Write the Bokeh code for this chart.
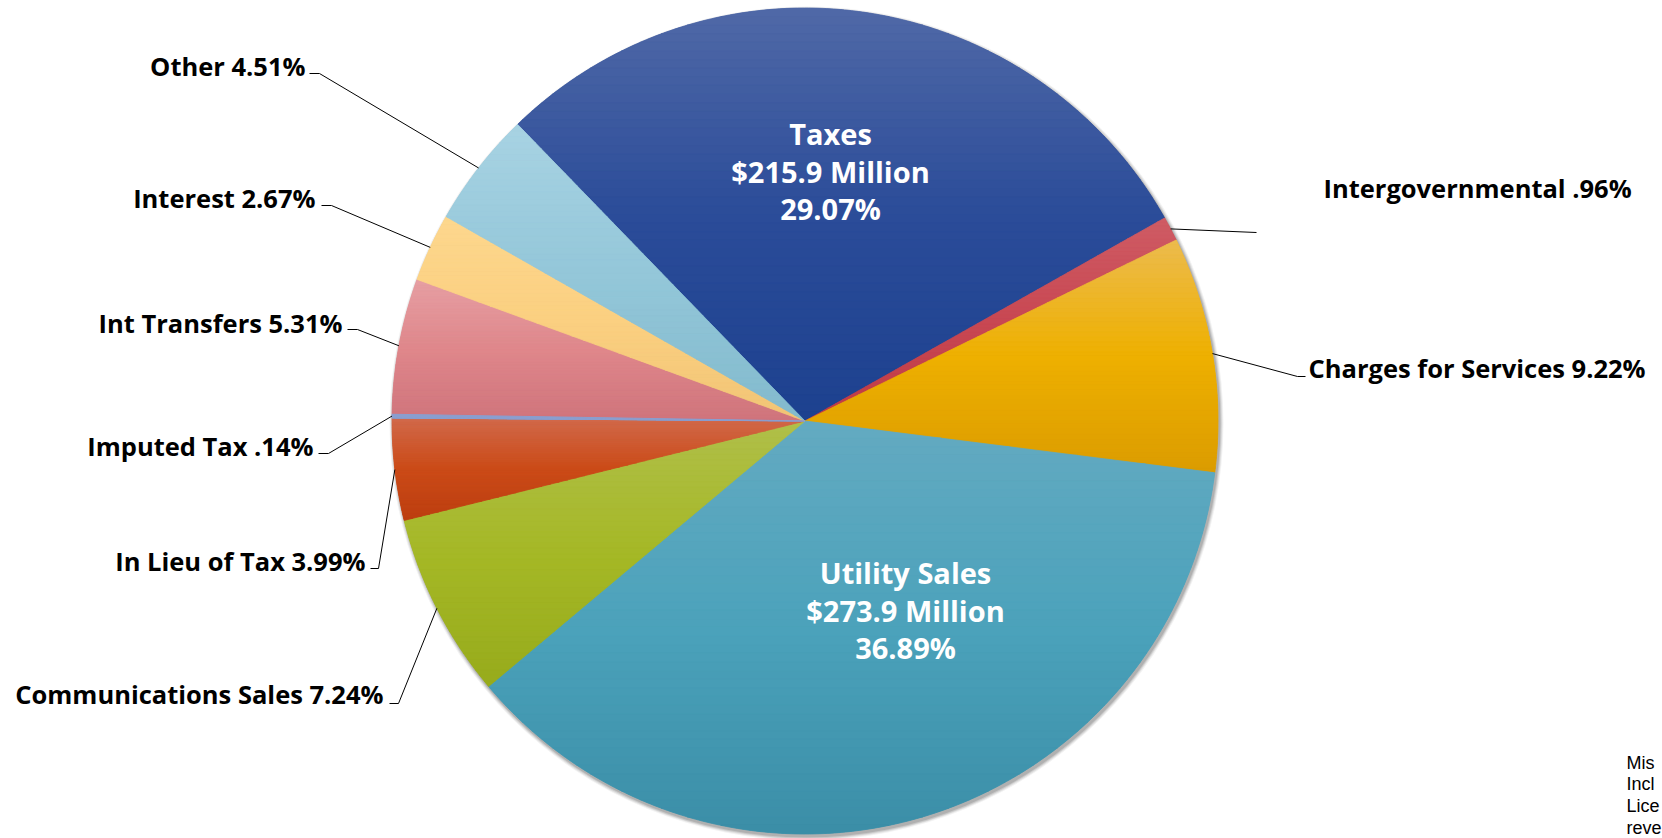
import math
from bokeh.plotting import figure
from bokeh.models import Range1d
from bokeh.embed import file_html
from bokeh.resources import INLINE
from bokeh.core.properties import value

# ---------------- data ----------------
categories = ["Taxes", "Intergovernmental", "Charges for Services", "Utility Sales",
              "Communications Sales", "In Lieu of Tax", "Imputed Tax", "Int Transfers",
              "Interest", "Other"]
percents = [29.07, 0.96, 9.22, 36.89, 7.24, 3.99, 0.14, 5.31, 2.67, 4.51]
pct_text = ["29.07%", ".96%", "9.22%", "36.89%", "7.24%", "3.99%", ".14%", "5.31%", "2.67%", "4.51%"]
amount_text = ["$215.9 Million", "", "", "$273.9 Million", "", "", "", "", "", ""]
note_lines = ["Mis", "Incl", "Lice", "reve"]

# ---------------- style ----------------
top_colors = ["#5069a7", "#cf5c64", "#ecbb4e", "#64aac1", "#b0bf4a", "#d16a4c", "#8fa2d2", "#e69fa3", "#fdd78e", "#a8d3e3"]
mid_colors = ["#2b4c99", "#c84853", "#eeb000", "#4ba2bb", "#a5b826", "#cb4b18", "#8a9ecf", "#df878b", "#fbd081", "#94c7d9"]
bot_colors = ["#1d418f", "#c03a45", "#db9c00", "#3b8ea7", "#97ab1c", "#bd3e10", "#8497c8", "#cf747c", "#f1c475", "#82bacd"]

W, H = 1662, 838
def rx(X):
    return X
def ry(Y):
    return H - Y

CX, CY, R = rx(804.5), ry(420.5), 413.0
START = 315.9  # degrees clockwise from 12 o'clock where the first slice starts

p = figure(width=W, height=H, x_range=Range1d(0, W), y_range=Range1d(0, H),
           output_backend="svg", toolbar_location=None, min_border=0)
p.axis.visible = False
p.grid.visible = False
p.outline_line_color = None
p.background_fill_color = "white"
p.border_fill_color = "white"

# slice angles (clockwise from top)
bounds = []
acc = START
for v in percents:
    a0 = acc
    a1 = acc + v / 100.0 * 360.0
    bounds.append((a0, a1))
    acc = a1

def pt(theta, rad):
    t = math.radians(theta)
    return CX + rad * math.sin(t), CY + rad * math.cos(t)

# shadow
for off, al in [(4.0, 0.05), (3.0, 0.07), (2.0, 0.10), (1.0, 0.12)]:
    p.circle(x=[CX + 1.5], y=[CY - 2.5], radius=R + off, fill_color="#000000",
             fill_alpha=al, line_color=None)

# base wedges
p.wedge(x=[CX] * len(percents), y=[CY] * len(percents), radius=R,
        start_angle=[math.radians(90 - b[1]) for b in bounds],
        end_angle=[math.radians(90 - b[0]) for b in bounds],
        fill_color=mid_colors, line_color=None)

# vertical gradient per slice
def hexrgb(h):
    h = h.lstrip("#")
    return tuple(int(h[i:i + 2], 16) for i in (0, 2, 4))

def grad(c0, c1, c2, t):
    a, b, c = hexrgb(c0), hexrgb(c1), hexrgb(c2)
    if t < 0.5:
        s = t / 0.5
        rgb = [a[i] + (b[i] - a[i]) * s for i in range(3)]
    else:
        s = (t - 0.5) / 0.5
        rgb = [b[i] + (c[i] - b[i]) * s for i in range(3)]
    return "#%02x%02x%02x" % tuple(int(round(v)) for v in rgb)

def clip(poly, yc, keep_above):
    out = []
    n = len(poly)
    for i in range(n):
        P = poly[i]
        Q = poly[(i + 1) % n]
        pin = P[1] >= yc if keep_above else P[1] <= yc
        qin = Q[1] >= yc if keep_above else Q[1] <= yc
        if pin:
            out.append(P)
        if pin != qin:
            t = (yc - P[1]) / (Q[1] - P[1])
            out.append((P[0] + t * (Q[0] - P[0]), yc))
    return out

gx, gy, gc = [], [], []
NB = 48
for i, (a0, a1) in enumerate(bounds):
    steps = max(2, int((a1 - a0) / 0.5))
    poly = [(CX, CY)] + [pt(a0 + (a1 - a0) * j / steps, R) for j in range(steps + 1)]
    ys = [q[1] for q in poly]
    ymin, ymax = min(ys), max(ys)
    if ymax - ymin < 1:
        continue
    for b in range(NB):
        yhi = ymax - (ymax - ymin) * b / NB
        ylo = ymax - (ymax - ymin) * (b + 1) / NB
        sub = clip(clip(poly, ylo, True), yhi, False)
        if len(sub) < 3:
            continue
        gx.append([q[0] for q in sub])
        gy.append([q[1] for q in sub])
        gc.append(grad(top_colors[i], mid_colors[i], bot_colors[i], (b + 0.5) / NB))

p.patches(xs=gx, ys=gy, fill_color=gc, line_color=gc, line_width=0.8)

# thin imputed slice drawn on top so it stays visible
imp = categories.index("Imputed Tax")
a0, a1 = bounds[imp]
p.wedge(x=[CX], y=[CY], radius=R, start_angle=math.radians(90 - a1),
        end_angle=math.radians(90 - a0), fill_color=mid_colors[imp], line_color=mid_colors[imp],
        line_width=1)

# ---------------- outside labels ----------------
outside = {
    "Other":                (305, 65,  "right", [(309, 73), (319, 73)]),
    "Interest":             (315, 197, "right", [(321, 205), (331, 205)]),
    "Int Transfers":        (342, 322, "right", [(347, 329), (357, 329)]),
    "Imputed Tax":          (313, 445, "right", [(318, 453), (328, 453)]),
    "In Lieu of Tax":       (365, 560, "right", [(370, 568), (378, 568)]),
    "Communications Sales": (383, 693, "right", [(389, 703), (398, 703)]),
    "Charges for Services": (1308, 367, "left", [(1305, 376), (1297, 376)]),
    "Intergovernmental":    (1323, 187, "left", [(1256, 232)]),
}

lx, ly, lt, la = [], [], [], []
mlx, mly = [], []
for name, (X, Y, align, elbow) in outside.items():
    i = categories.index(name)
    lx.append(rx(X)); ly.append(ry(Y)); lt.append(name + " " + pct_text[i]); la.append(align)
    a0, a1 = bounds[i]
    ex, ey = pt((a0 + a1) / 2.0, R)
    xs = [rx(e[0]) for e in elbow] + [ex]
    ys = [ry(e[1]) for e in elbow] + [ey]
    mlx.append(xs); mly.append(ys)

p.multi_line(xs=mlx, ys=mly, line_color="#000000", line_width=1)

FONT = "Open Sans"
for align in ("left", "right"):
    idx = [k for k in range(len(lt)) if la[k] == align]
    p.text(x=[lx[k] for k in idx], y=[ly[k] for k in idx], text=[lt[k] for k in idx],
           text_font=value(FONT), text_font_style="bold", text_font_size="25.5px",
           text_color="#000000", text_align=align, text_baseline="middle")

# ---------------- inside labels ----------------
inside = {"Taxes": (830, [133, 171, 208]), "Utility Sales": (905, [572, 610, 647])}
ix, iy, itxt = [], [], []
for name, (X, Ys) in inside.items():
    i = categories.index(name)
    for Y, s in zip(Ys, [name, amount_text[i], pct_text[i]]):
        ix.append(rx(X)); iy.append(ry(Y)); itxt.append(s)
p.text(x=ix, y=iy, text=itxt, text_font=value(FONT), text_font_style="bold",
       text_font_size="29px", text_color="#ffffff", text_align="center", text_baseline="middle")

# ---------------- side note (partly visible at the right edge) ----------------
p.text(x=[rx(1626)] * 4, y=[ry(Yb) for Yb in [762, 783, 805, 827]], text=note_lines,
       text_font=value("Liberation Sans"), text_font_size="18px", text_color="#000000",
       text_align="left", text_baseline="alphabetic")

open("out.html", "w").write(file_html(p, INLINE))
